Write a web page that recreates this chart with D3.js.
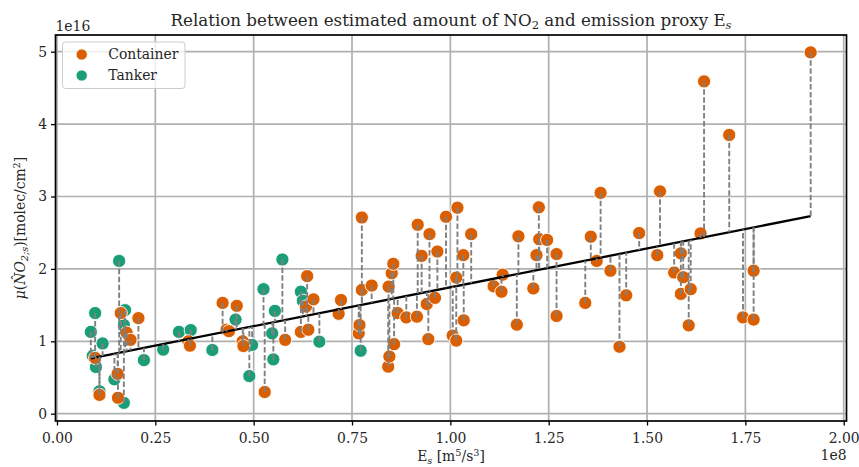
<!DOCTYPE html>
<html><head><meta charset="utf-8">
<script src="https://cdn.jsdelivr.net/npm/d3@7"></script>
<style>
body{margin:0;background:#fff;}
text{font-family:"DejaVu Serif",serif;fill:#262626;}
</style></head>
<body><svg id="c" width="859" height="467"></svg>
<script>
// x in units of 1e8 m^5/s^3, y in units of 1e16 molec/cm^2
const containerX = [0.097,0.108,0.154,0.155,0.162,0.177,0.187,0.207,0.334,0.338,0.421,0.431,0.437,0.457,0.472,0.474,0.528,0.580,0.620,0.636,0.633,0.639,0.652,0.716,0.722,0.767,0.769,0.775,0.775,0.800,0.842,0.845,0.843,0.851,0.855,0.857,0.866,0.888,0.915,0.917,0.927,0.940,0.944,0.947,0.961,0.967,0.989,1.006,1.015,1.015,1.018,1.034,1.033,1.053,1.110,1.130,1.133,1.169,1.173,1.211,1.219,1.225,1.226,1.246,1.270,1.270,1.343,1.357,1.372,1.382,1.407,1.430,1.447,1.480,1.526,1.533,1.569,1.586,1.586,1.592,1.611,1.606,1.636,1.645,1.709,1.744,1.771,1.771,1.916];
const containerY = [0.77,0.26,0.55,0.22,1.39,1.12,1.02,1.32,1.00,0.94,1.53,1.16,1.14,1.49,1.00,0.935,0.30,1.02,1.13,1.90,1.48,1.16,1.58,1.38,1.57,1.11,1.225,1.71,2.71,1.77,0.65,0.79,1.755,1.94,2.07,0.96,1.39,1.33,1.34,2.61,2.18,1.515,1.03,2.48,1.60,2.24,2.72,1.08,1.01,1.88,2.845,1.29,2.19,2.48,1.76,1.685,1.92,1.23,2.45,1.73,2.19,2.85,2.41,2.40,2.205,1.35,1.53,2.445,2.11,3.05,1.975,0.925,1.635,2.495,2.19,3.07,1.95,2.215,1.655,1.885,1.72,1.22,2.49,4.59,3.85,1.33,1.975,1.30,4.99];
const tankerX = [0.086,0.097,0.091,0.099,0.108,0.116,0.146,0.158,0.170,0.173,0.170,0.221,0.270,0.310,0.340,0.395,0.454,0.489,0.496,0.525,0.547,0.550,0.554,0.573,0.620,0.625,0.667,0.772];
const tankerY = [1.13,1.39,0.80,0.645,0.31,0.97,0.475,2.11,1.225,1.43,0.15,0.74,0.885,1.13,1.155,0.88,1.30,0.52,0.95,1.72,1.11,0.75,1.42,2.13,1.685,1.56,0.995,0.87];
const fitIntercept = 0.673, fitSlope = 1.073;
const xTicks = [0,0.25,0.5,0.75,1,1.25,1.5,1.75,2];
const yTicks = [0,1,2,3,4,5];
const colors = {Container:"#d95f02", Tanker:"#1b9e77"};

const svg = d3.select("#c");
const L=55.5,R=846.5,T=35,B=421;
const x = d3.scaleLinear().domain([-0.0038,2.0071]).range([L,R]);
const y = d3.scaleLinear().domain([-0.1008,5.2307]).range([B,T]);

// grid
const g = svg.append("g");
g.selectAll(".gx").data(xTicks).join("line").attr("x1",d=>x(d)).attr("x2",d=>x(d)).attr("y1",T).attr("y2",B).attr("stroke","#b0b0b0").attr("stroke-width",1.7);
g.selectAll(".gy").data(yTicks).join("line").attr("y1",d=>y(d)).attr("y2",d=>y(d)).attr("x1",L).attr("x2",R).attr("stroke","#b0b0b0").attr("stroke-width",1.7);

const tanker = tankerX.map((v,i)=>({x:v,y:tankerY[i],t:"Tanker"}));
const container = containerX.map((v,i)=>({x:v,y:containerY[i],t:"Container"}));
const all = tanker.concat(container);

svg.append("g").selectAll("circle").data(all).join("circle")
  .attr("cx",d=>x(d.x)).attr("cy",d=>y(d.y)).attr("r",6.6)
  .attr("fill",d=>colors[d.t]).attr("stroke","#fff").attr("stroke-width",0.9);

const xmin = d3.min(all,d=>d.x), xmax = d3.max(all,d=>d.x);
const fit = v=>fitIntercept+fitSlope*v;
svg.append("line").attr("x1",x(xmin)).attr("y1",y(fit(xmin))).attr("x2",x(xmax)).attr("y2",y(fit(xmax)))
  .attr("stroke","#000").attr("stroke-width",2.3);

svg.append("g").selectAll("line").data(all).join("line")
  .attr("x1",d=>x(d.x)).attr("x2",d=>x(d.x)).attr("y1",d=>y(d.y)).attr("y2",d=>y(fit(d.x)))
  .attr("stroke","#808080").attr("stroke-width",1.9).attr("stroke-dasharray","5.5,2.4");

// axes
const xa = svg.append("g").attr("transform",`translate(0,${B})`)
  .call(d3.axisBottom(x).tickValues(xTicks).tickFormat(d3.format(".2f")).tickSize(4.5).tickPadding(4));
const ya = svg.append("g").attr("transform",`translate(${L},0)`)
  .call(d3.axisLeft(y).tickValues(yTicks).tickFormat(d3.format("d")).tickSize(4.5).tickPadding(4));
[xa,ya].forEach(a=>{a.select(".domain").remove();a.selectAll("line").attr("stroke","#000").attr("stroke-width",1.3);
  a.selectAll("text").style("font-family","DejaVu Serif").style("font-size","13.9px").attr("fill","#262626");});
xa.selectAll("text").attr("dy","0.95em");
svg.append("rect").attr("x",L).attr("y",T).attr("width",R-L).attr("height",B-T).attr("fill","none").attr("stroke","#000").attr("stroke-width",1.7);

// multipliers
svg.append("text").attr("x",L).attr("y",30.5).style("font-size","13.9px").text("1e16");
svg.append("text").attr("x",R).attr("y",460).attr("text-anchor","end").style("font-size","13.9px").text("1e8");

// title
const t = svg.append("text").attr("x",(L+R)/2).attr("y",26).attr("text-anchor","middle").style("font-size","16.7px");
t.append("tspan").text("Relation between estimated amount of NO");
t.append("tspan").attr("dy",3).style("font-size","11.5px").text("2");
t.append("tspan").attr("dy",-3).text(" and emission proxy E");
t.append("tspan").attr("dy",3).style("font-size","11.5px").style("font-style","italic").text("s");

// x label
const xl = svg.append("text").attr("x",(L+R)/2).attr("y",461).attr("text-anchor","middle").style("font-size","13.9px");
xl.append("tspan").text("E");
xl.append("tspan").attr("dy",2.5).style("font-size","9.7px").style("font-style","italic").text("s");
xl.append("tspan").attr("dy",-2.5).text(" [m");
xl.append("tspan").attr("dy",-5).style("font-size","9.7px").text("5");
xl.append("tspan").attr("dy",5).text("/s");
xl.append("tspan").attr("dy",-5).style("font-size","9.7px").text("3");
xl.append("tspan").attr("dy",5).text("]");

// y label
const yl = svg.append("g").attr("transform",`translate(25,${(T+B)/2}) rotate(-90)`)
  .append("text").attr("text-anchor","middle").style("font-size","13.9px");
yl.append("tspan").style("font-style","italic").text("μ");
yl.append("tspan").text("(");
yl.append("tspan").style("font-style","italic").text("N\u0302O");
yl.append("tspan").attr("dy",2.5).style("font-size","9.7px").style("font-style","italic").text("2;s");
yl.append("tspan").attr("dy",-2.5).text(")[molec/cm");
yl.append("tspan").attr("dy",-5).style("font-size","9.7px").text("2");
yl.append("tspan").attr("dy",5).text("]");

// legend
const lg = svg.append("g");
lg.append("rect").attr("x",62.5).attr("y",42).attr("width",122.5).attr("height",46.5).attr("rx",3)
  .attr("fill","#fff").attr("fill-opacity",0.8).attr("stroke","#ccc").attr("stroke-width",1);
const items = ["Container","Tanker"];
lg.selectAll("circle").data(items).join("circle").attr("cx",81.7).attr("cy",(d,i)=>54.5+i*21).attr("r",5.6)
  .attr("fill",d=>colors[d]).attr("stroke","#fff").attr("stroke-width",0.8);
lg.selectAll("text").data(items).join("text").attr("x",108.3).attr("y",(d,i)=>59.3+i*21).style("font-size","13.9px").text(d=>d);
</script></body></html>
